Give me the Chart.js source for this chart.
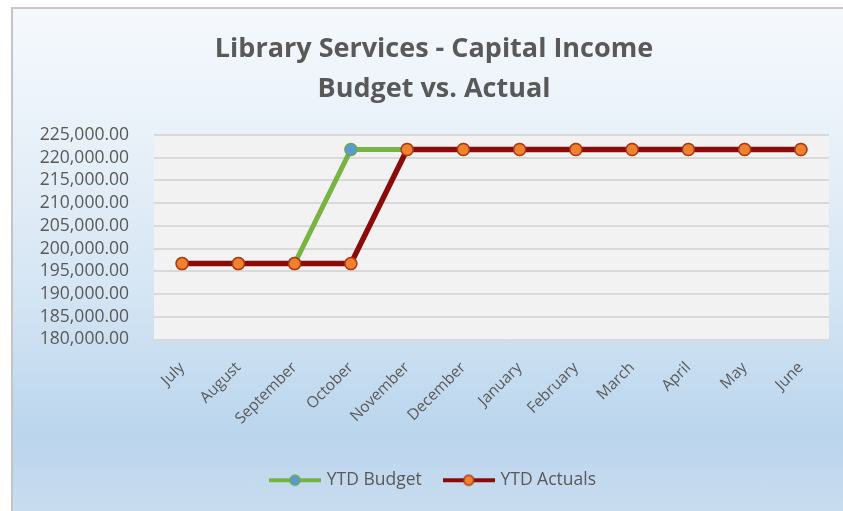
<!DOCTYPE html>
<html>
<head>
<meta charset="utf-8">
<script src="https://cdn.jsdelivr.net/npm/chart.js@4.4.1/dist/chart.umd.min.js"></script>
<style>
    html, body {
        margin: 0;
        padding: 0;
        background: #ffffff;
        width: 843px;
        height: 511px;
        overflow: hidden;
    }
    .chart {
        position: absolute;
        left: 11px;
        top: 7px;
        width: 832px;
        height: 504px;
        box-sizing: border-box;
        border-top: 2px solid #c9c9c9;
        border-left: 2px solid #c4c4c4;
        background: linear-gradient(to bottom, #f5f9fd 0%, #e9f1f9 25%, #d6e6f4 55%, #bad5ed 85%, #c9dcef 100%);
        overflow: hidden;
    }
    .chart canvas {
        position: absolute;
        left: -2px;
        top: -2px;
    }
</style>
</head>
<body>
<div class="chart">
    <canvas id="chart" width="860" height="504"></canvas>
</div>
<script>
const months = ['July', 'August', 'September', 'October', 'November', 'December',
    'January', 'February', 'March', 'April', 'May', 'June'];
const ytdBudget = [196700, 196700, 196700, 221800, 221800, 221800,
    221800, 221800, 221800, 221800, 221800, 221800];
const ytdActuals = [196700, 196700, 196700, 196700, 221800, 221800,
    221800, 221800, 221800, 221800, 221800, 221800];
const yMin = 180000;
const yMax = 225000;
const yStep = 5000;

const textColor = '#595959';
const fontFamily = "'Open Sans', 'Noto Sans', sans-serif";

// legend swatch: a short line with the marker on it
function legendSwatch(lineColor, fillColor, borderColor) {
    const c = document.createElement('canvas');
    c.width = 52;
    c.height = 14;
    const ctx = c.getContext('2d');
    ctx.strokeStyle = lineColor;
    ctx.lineWidth = 4;
    ctx.beginPath();
    ctx.moveTo(0, 7);
    ctx.lineTo(52, 7);
    ctx.stroke();
    ctx.beginPath();
    ctx.arc(26, 7, 5, 0, Math.PI * 2);
    ctx.fillStyle = fillColor;
    ctx.fill();
    ctx.lineWidth = 1.5;
    ctx.strokeStyle = borderColor;
    ctx.stroke();
    return c;
}

const swatches = [
    legendSwatch('#78b444', '#5b9bd5', '#6aa84f'),
    legendSwatch('#8b0a0a', '#f0822d', '#b0361a'),
];

const plotBackground = {
    id: 'plotBackground',
    beforeDraw(chart) {
        const { ctx, chartArea } = chart;
        ctx.save();
        ctx.fillStyle = '#f2f2f2';
        ctx.fillRect(chartArea.left, chartArea.top, chartArea.right - chartArea.left, chartArea.bottom - chartArea.top);
        ctx.restore();
    },
};

const formatMoney = (value) => value.toLocaleString('en-US', { minimumFractionDigits: 2, maximumFractionDigits: 2 });

new Chart(document.getElementById('chart'), {
    type: 'line',
    data: {
        labels: months,
        datasets: [{
            label: 'YTD Budget',
            data: ytdBudget,
            order: 2,
            borderColor: '#78b444',
            borderWidth: 5,
            pointRadius: 6,
            pointBackgroundColor: '#5b9bd5',
            pointBorderColor: '#6aa84f',
            pointBorderWidth: 1.5,
            tension: 0,
        }, {
            label: 'YTD Actuals',
            data: ytdActuals,
            order: 1,
            borderColor: '#8b0a0a',
            borderWidth: 5.5,
            pointRadius: 6,
            pointBackgroundColor: '#f0822d',
            pointBorderColor: '#b0361a',
            pointBorderWidth: 1.5,
            tension: 0,
        }],
    },
    options: {
        responsive: false,
        animation: false,
        layout: {
            padding: { left: 28, right: 42, top: 0, bottom: 12 },
        },
        plugins: {
            title: {
                display: true,
                text: ['Library Services - Capital Income', 'Budget vs. Actual'],
                color: textColor,
                font: { family: fontFamily, size: 27, weight: 'bold', lineHeight: 1.5 },
                padding: { top: 22, bottom: 25 },
            },
            legend: {
                position: 'bottom',
                labels: {
                    usePointStyle: true,
                    pointStyleWidth: 46,
                    color: textColor,
                    padding: 24,
                    font: { family: fontFamily, size: 17.5 },
                    generateLabels(chart) {
                        const items = Chart.defaults.plugins.legend.labels.generateLabels(chart);
                        items.sort((a, b) => a.datasetIndex - b.datasetIndex);
                        items.forEach((item) => {
                            item.pointStyle = swatches[item.datasetIndex];
                        });
                        return items;
                    },
                },
            },
            tooltip: { enabled: false },
        },
        scales: {
            x: {
                offset: true,
                grid: { display: false, drawTicks: false },
                border: { color: '#d9d9d9', width: 2 },
                ticks: {
                    color: textColor,
                    minRotation: 45,
                    maxRotation: 45,
                    padding: 19,
                    font: { family: fontFamily, size: 15.5 },
                },
                afterFit(scale) {
                    scale.height = 108;
                },
            },
            y: {
                min: yMin,
                max: yMax,
                grid: { color: '#d9d9d9', lineWidth: 2, drawTicks: false },
                border: { display: false },
                ticks: {
                    stepSize: yStep,
                    autoSkip: false,
                    color: textColor,
                    padding: 25,
                    font: { family: fontFamily, size: 17.5 },
                    callback: (value) => formatMoney(value),
                },
                afterFit(scale) {
                    scale.width = 115;
                },
            },
        },
    },
    plugins: [plotBackground],
});
</script>
</body>
</html>
